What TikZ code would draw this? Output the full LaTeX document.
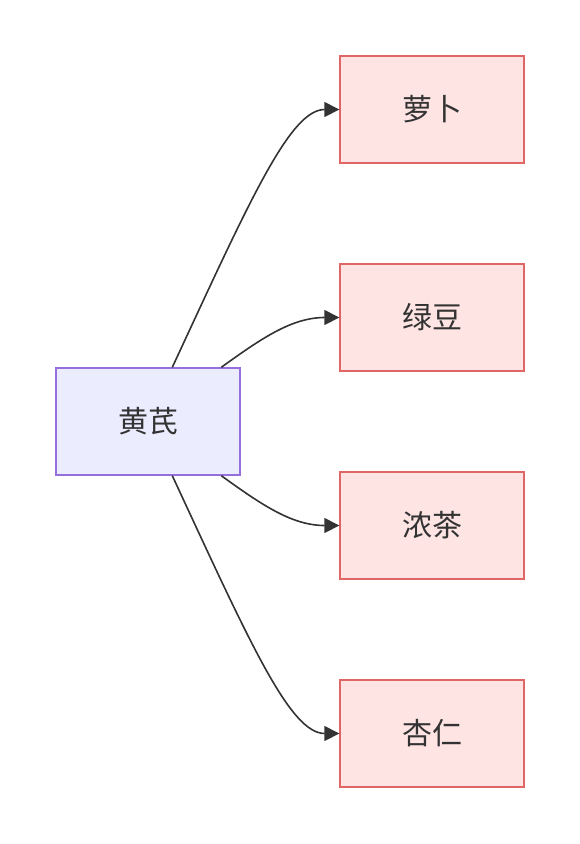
\documentclass[tikz,border=0pt]{standalone}
\usepackage{fontspec}
\newfontfamily\cjk{Noto Sans CJK SC}
\usetikzlibrary{arrows.meta}
\definecolor{srcfill}{HTML}{ECECFF}
\definecolor{srcdraw}{HTML}{9370DB}
\definecolor{dstfill}{HTML}{FFE4E4}
\definecolor{dstdraw}{HTML}{E06666}
\definecolor{ink}{HTML}{333333}
\tikzset{
  box/.style={rectangle, minimum width=184pt, minimum height=107pt, line width=1.4pt, inner sep=0pt,
    font=\cjk\fontsize{30}{35}\selectfont, text=ink},
  srcbox/.style={box, fill=srcfill, draw=srcdraw},
  dstbox/.style={box, fill=dstfill, draw=dstdraw},
  link/.style={draw=ink, line width=1.6pt, -{Triangle[length=15pt,width=15pt]}},
}
\begin{document}
\begin{tikzpicture}[x=1pt,y=-1pt]
\useasboundingbox (0,0) rectangle (580,844);
\node[srcbox] (hq) at (148,421.5) {黄芪};
\node[dstbox] (lb) at (432,109.5) {萝卜};
\node[dstbox] (ld) at (432,317.5) {绿豆};
\node[dstbox] (nc) at (432,525.5) {浓茶};
\node[dstbox] (xr) at (432,733.5) {杏仁};
\path (hq.north west) ++(117,0) coordinate (a1);
\path (hq.north west) ++(166,0) coordinate (a2);
\path (hq.south west) ++(166,0) coordinate (a3);
\path (hq.south west) ++(117,0) coordinate (a4);
\draw[link] (a1) .. controls (250,200) and (290,109.5) .. (lb.west);
\draw[link] (a2) .. controls (262,338) and (292,317.5) .. (ld.west);
\draw[link] (a3) .. controls (262,505) and (292,525.5) .. (nc.west);
\draw[link] (a4) .. controls (250,643) and (290,733.5) .. (xr.west);
\end{tikzpicture}
\end{document}
